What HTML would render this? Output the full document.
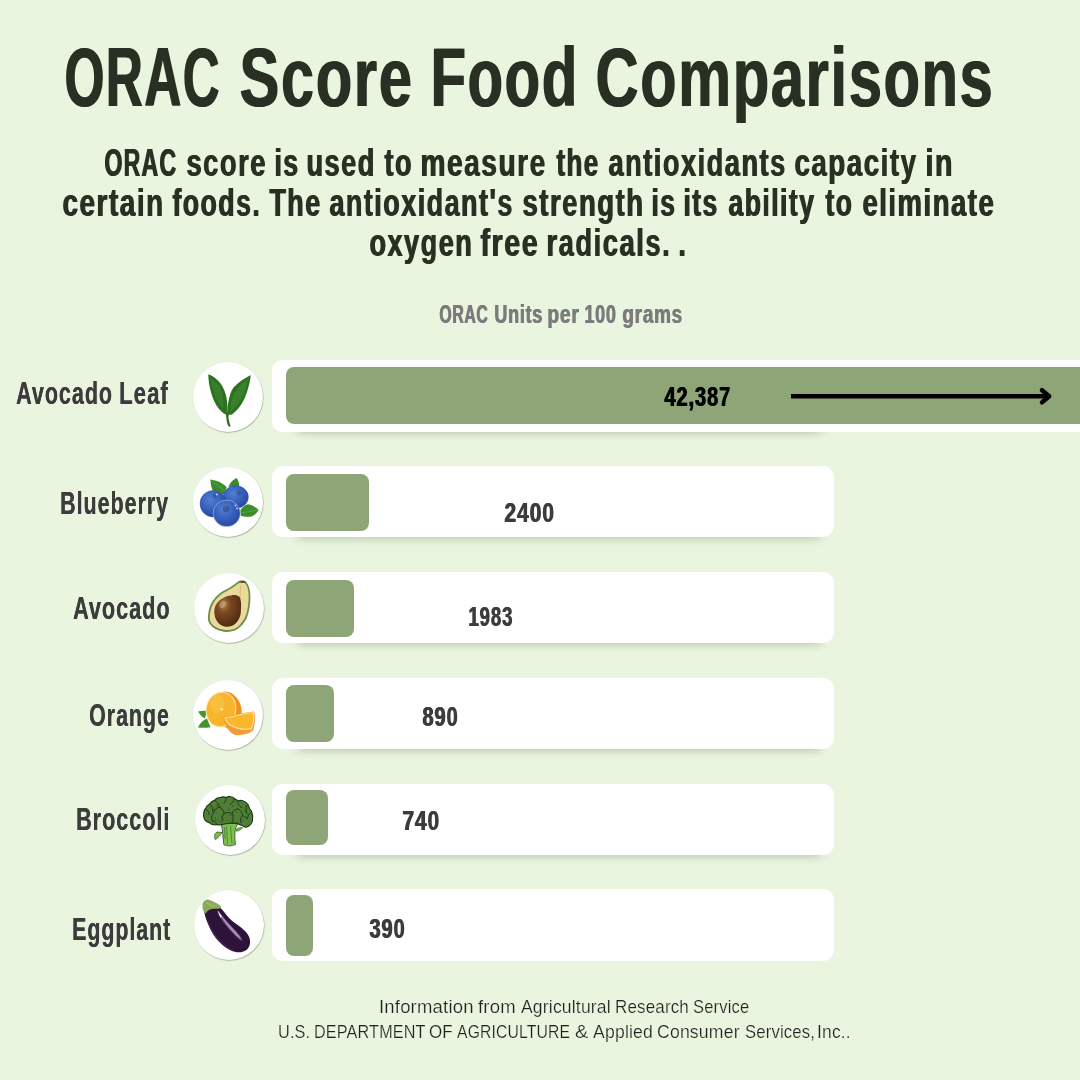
<!DOCTYPE html><html><head><meta charset="utf-8"><style>
html,body{margin:0;padding:0}
body{width:1080px;height:1080px;overflow:hidden;position:relative;background:#e9f5df;font-family:"Liberation Sans",sans-serif}
.t{position:absolute;white-space:nowrap;transform-origin:0 0}
.card{position:absolute;left:272px;background:#fff;border-radius:11px}
.shadow{position:absolute;left:272px;width:562px;border-radius:11px;box-shadow:0 10px 9px -9px rgba(40,60,30,.32)}
.bar{position:absolute;left:286px;background:#8ea677;border-radius:8px}
.circ{position:absolute;width:70px;height:70px;border-radius:50%;background:#fff;box-shadow:0.5px 0.7px 1px rgba(60,70,50,.42)}
.circ svg{position:absolute;left:0;top:0}
</style></head><body>
<div class="t" style="left:63.94px;top:33.27px;font-weight:700;font-size:86.63px;line-height:86.63px;letter-spacing:0.03em;transform-origin:0 73.33px;transform:scale(0.5900,0.965);color:#293023;text-shadow:2.03px 0 0 #293023;">ORAC</div>
<div class="t" style="left:238.91px;top:33.27px;font-weight:700;font-size:86.63px;line-height:86.63px;letter-spacing:0.03em;transform-origin:0 73.33px;transform:scale(0.6857,0.965);color:#293023;text-shadow:1.75px 0 0 #293023;">Score</div>
<div class="t" style="left:429.92px;top:33.27px;font-weight:700;font-size:86.63px;line-height:86.63px;letter-spacing:0.03em;transform-origin:0 73.33px;transform:scale(0.6676,0.965);color:#293023;text-shadow:1.80px 0 0 #293023;">Food</div>
<div class="t" style="left:595.12px;top:33.27px;font-weight:700;font-size:86.63px;line-height:86.63px;letter-spacing:0.03em;transform-origin:0 73.33px;transform:scale(0.6851,0.965);color:#293023;text-shadow:1.75px 0 0 #293023;">Comparisons</div>
<div class="t" style="left:104.07px;top:141.55px;font-weight:700;font-size:40.70px;line-height:40.70px;letter-spacing:0.055em;transform-origin:0 34.45px;transform:scale(0.5666,0.95);color:#293023;text-shadow:1.59px 0 0 #293023;">ORAC</div>
<div class="t" style="left:186.09px;top:141.55px;font-weight:700;font-size:40.70px;line-height:40.70px;letter-spacing:0.055em;transform-origin:0 34.45px;transform:scale(0.6724,0.95);color:#293023;text-shadow:1.34px 0 0 #293023;">score</div>
<div class="t" style="left:274.05px;top:141.55px;font-weight:700;font-size:40.70px;line-height:40.70px;letter-spacing:0.055em;transform-origin:0 34.45px;transform:scale(0.6552,0.95);color:#293023;text-shadow:1.37px 0 0 #293023;">is</div>
<div class="t" style="left:306.35px;top:141.55px;font-weight:700;font-size:40.70px;line-height:40.70px;letter-spacing:0.055em;transform-origin:0 34.45px;transform:scale(0.6677,0.95);color:#293023;text-shadow:1.35px 0 0 #293023;">used</div>
<div class="t" style="left:384.12px;top:141.55px;font-weight:700;font-size:40.70px;line-height:40.70px;letter-spacing:0.055em;transform-origin:0 34.45px;transform:scale(0.6647,0.95);color:#293023;text-shadow:1.35px 0 0 #293023;">to</div>
<div class="t" style="left:419.62px;top:141.55px;font-weight:700;font-size:40.70px;line-height:40.70px;letter-spacing:0.055em;transform-origin:0 34.45px;transform:scale(0.6901,0.95);color:#293023;text-shadow:1.30px 0 0 #293023;">measure</div>
<div class="t" style="left:556.44px;top:141.55px;font-weight:700;font-size:40.70px;line-height:40.70px;letter-spacing:0.055em;transform-origin:0 34.45px;transform:scale(0.6370,0.95);color:#293023;text-shadow:1.41px 0 0 #293023;">the</div>
<div class="t" style="left:608.18px;top:141.55px;font-weight:700;font-size:40.70px;line-height:40.70px;letter-spacing:0.055em;transform-origin:0 34.45px;transform:scale(0.6691,0.95);color:#293023;text-shadow:1.35px 0 0 #293023;">antioxidants</div>
<div class="t" style="left:794.38px;top:141.55px;font-weight:700;font-size:40.70px;line-height:40.70px;letter-spacing:0.055em;transform-origin:0 34.45px;transform:scale(0.6811,0.95);color:#293023;text-shadow:1.32px 0 0 #293023;">capacity</div>
<div class="t" style="left:924.63px;top:141.55px;font-weight:700;font-size:40.70px;line-height:40.70px;letter-spacing:0.055em;transform-origin:0 34.45px;transform:scale(0.7007,0.95);color:#293023;text-shadow:1.28px 0 0 #293023;">in</div>
<div class="t" style="left:61.67px;top:181.55px;font-weight:700;font-size:40.70px;line-height:40.70px;letter-spacing:0.055em;transform-origin:0 34.45px;transform:scale(0.6860,0.95);color:#293023;text-shadow:1.31px 0 0 #293023;">certain</div>
<div class="t" style="left:171.76px;top:181.55px;font-weight:700;font-size:40.70px;line-height:40.70px;letter-spacing:0.055em;transform-origin:0 34.45px;transform:scale(0.6555,0.95);color:#293023;text-shadow:1.37px 0 0 #293023;">foods.</div>
<div class="t" style="left:268.83px;top:181.55px;font-weight:700;font-size:40.70px;line-height:40.70px;letter-spacing:0.055em;transform-origin:0 34.45px;transform:scale(0.6597,0.95);color:#293023;text-shadow:1.36px 0 0 #293023;">The</div>
<div class="t" style="left:329.19px;top:181.55px;font-weight:700;font-size:40.70px;line-height:40.70px;letter-spacing:0.055em;transform-origin:0 34.45px;transform:scale(0.6622,0.95);color:#293023;text-shadow:1.36px 0 0 #293023;">antioxidant's</div>
<div class="t" style="left:521.89px;top:181.55px;font-weight:700;font-size:40.70px;line-height:40.70px;letter-spacing:0.055em;transform-origin:0 34.45px;transform:scale(0.6763,0.95);color:#293023;text-shadow:1.33px 0 0 #293023;">strength</div>
<div class="t" style="left:650.87px;top:181.55px;font-weight:700;font-size:40.70px;line-height:40.70px;letter-spacing:0.055em;transform-origin:0 34.45px;transform:scale(0.6489,0.95);color:#293023;text-shadow:1.39px 0 0 #293023;">is</div>
<div class="t" style="left:683.09px;top:181.55px;font-weight:700;font-size:40.70px;line-height:40.70px;letter-spacing:0.055em;transform-origin:0 34.45px;transform:scale(0.6503,0.95);color:#293023;text-shadow:1.38px 0 0 #293023;">its</div>
<div class="t" style="left:728.19px;top:181.55px;font-weight:700;font-size:40.70px;line-height:40.70px;letter-spacing:0.055em;transform-origin:0 34.45px;transform:scale(0.6529,0.95);color:#293023;text-shadow:1.38px 0 0 #293023;">ability</div>
<div class="t" style="left:825.33px;top:181.55px;font-weight:700;font-size:40.70px;line-height:40.70px;letter-spacing:0.055em;transform-origin:0 34.45px;transform:scale(0.6492,0.95);color:#293023;text-shadow:1.39px 0 0 #293023;">to</div>
<div class="t" style="left:861.59px;top:181.55px;font-weight:700;font-size:40.70px;line-height:40.70px;letter-spacing:0.055em;transform-origin:0 34.45px;transform:scale(0.6760,0.95);color:#293023;text-shadow:1.33px 0 0 #293023;">eliminate</div>
<div class="t" style="left:368.71px;top:221.85px;font-weight:700;font-size:40.70px;line-height:40.70px;letter-spacing:0.055em;transform-origin:0 34.45px;transform:scale(0.6662,0.95);color:#293023;text-shadow:1.35px 0 0 #293023;">oxygen</div>
<div class="t" style="left:479.82px;top:221.85px;font-weight:700;font-size:40.70px;line-height:40.70px;letter-spacing:0.055em;transform-origin:0 34.45px;transform:scale(0.7029,0.95);color:#293023;text-shadow:1.28px 0 0 #293023;">free</div>
<div class="t" style="left:545.87px;top:221.85px;font-weight:700;font-size:40.70px;line-height:40.70px;letter-spacing:0.055em;transform-origin:0 34.45px;transform:scale(0.6734,0.95);color:#293023;text-shadow:1.34px 0 0 #293023;">radicals.</div>
<div class="t" style="left:678.35px;top:221.85px;font-weight:700;font-size:40.70px;line-height:40.70px;letter-spacing:0.055em;transform-origin:0 34.45px;transform:scale(0.6429,0.95);color:#293023;text-shadow:1.40px 0 0 #293023;">.</div>
<div class="t" style="left:439.11px;top:300.71px;font-weight:700;font-size:26.45px;line-height:26.45px;letter-spacing:0.04em;transform-origin:0 22.39px;transform:scale(0.5968,0.965);color:#7b7b7b;text-shadow:1.34px 0 0 #7b7b7b;">ORAC</div>
<div class="t" style="left:493.90px;top:300.71px;font-weight:700;font-size:26.45px;line-height:26.45px;letter-spacing:0.04em;transform-origin:0 22.39px;transform:scale(0.6807,0.965);color:#7b7b7b;text-shadow:1.18px 0 0 #7b7b7b;">Units</div>
<div class="t" style="left:547.37px;top:300.71px;font-weight:700;font-size:26.45px;line-height:26.45px;letter-spacing:0.04em;transform-origin:0 22.39px;transform:scale(0.7280,0.965);color:#7b7b7b;text-shadow:1.10px 0 0 #7b7b7b;">per</div>
<div class="t" style="left:583.89px;top:300.71px;font-weight:700;font-size:26.45px;line-height:26.45px;letter-spacing:0.04em;transform-origin:0 22.39px;transform:scale(0.6828,0.965);color:#7b7b7b;text-shadow:1.17px 0 0 #7b7b7b;">100</div>
<div class="t" style="left:621.73px;top:300.71px;font-weight:700;font-size:26.45px;line-height:26.45px;letter-spacing:0.04em;transform-origin:0 22.39px;transform:scale(0.7143,0.965);color:#7b7b7b;text-shadow:1.12px 0 0 #7b7b7b;">grams</div>
<svg style="position:absolute;left:0;top:0" width="1080" height="1080"><defs><filter id="sb" x="-20%" y="-200%" width="140%" height="500%"><feGaussianBlur stdDeviation="5 3.2"/></filter></defs><g fill="rgba(45,70,35,0.21)" filter="url(#sb)"><rect x="298" y="419.5" width="522" height="15"/><rect x="298" y="525" width="522" height="15"/><rect x="298" y="631" width="522" height="15"/><rect x="298" y="737" width="522" height="15"/><rect x="298" y="843" width="522" height="15"/></g></svg>
<div class="card" style="top:360px;height:71.5px;width:808px;border-radius:11px 0 0 11px"></div>
<div class="card" style="top:466px;height:71px;width:562px;"></div>
<div class="card" style="top:572px;height:71px;width:562px;"></div>
<div class="card" style="top:678px;height:71px;width:562px;"></div>
<div class="card" style="top:784px;height:71px;width:562px;"></div>
<div class="card" style="top:888.8px;height:71.80000000000007px;width:562px;"></div>
<div class="bar" style="top:367px;height:57px;width:794px;border-radius:8px 0 0 8px"></div>
<div class="bar" style="top:474px;height:57.39999999999998px;width:83px;"></div>
<div class="bar" style="top:580px;height:57.39999999999998px;width:68px;"></div>
<div class="bar" style="top:684.6px;height:57.39999999999998px;width:48px;"></div>
<div class="bar" style="top:790px;height:55.200000000000045px;width:42px;"></div>
<div class="bar" style="top:895px;height:60.5px;width:27px;"></div>
<div class="t" style="left:16.05px;top:376.50px;font-weight:700;font-size:32.25px;line-height:32.25px;letter-spacing:0.045em;transform-origin:0 27.30px;transform:scale(0.6682,0.985);color:#3c3c3c;text-shadow:0.30px 0 0 #3c3c3c;">Avocado</div>
<div class="t" style="left:119.14px;top:376.50px;font-weight:700;font-size:32.25px;line-height:32.25px;letter-spacing:0.045em;transform-origin:0 27.30px;transform:scale(0.6889,0.985);color:#3c3c3c;text-shadow:0.29px 0 0 #3c3c3c;">Leaf</div>
<div class="t" style="left:60.29px;top:487.40px;font-weight:700;font-size:32.25px;line-height:32.25px;letter-spacing:0.045em;transform-origin:0 27.30px;transform:scale(0.6658,0.985);color:#3c3c3c;text-shadow:0.30px 0 0 #3c3c3c;">Blueberry</div>
<div class="t" style="left:73.45px;top:591.60px;font-weight:700;font-size:32.25px;line-height:32.25px;letter-spacing:0.045em;transform-origin:0 27.30px;transform:scale(0.6716,0.985);color:#3c3c3c;text-shadow:0.30px 0 0 #3c3c3c;">Avocado</div>
<div class="t" style="left:89.04px;top:698.90px;font-weight:700;font-size:32.25px;line-height:32.25px;letter-spacing:0.045em;transform-origin:0 27.30px;transform:scale(0.6643,0.985);color:#3c3c3c;text-shadow:0.30px 0 0 #3c3c3c;">Orange</div>
<div class="t" style="left:76.38px;top:802.60px;font-weight:700;font-size:32.25px;line-height:32.25px;letter-spacing:0.045em;transform-origin:0 27.30px;transform:scale(0.6707,0.985);color:#3c3c3c;text-shadow:0.30px 0 0 #3c3c3c;">Broccoli</div>
<div class="t" style="left:71.50px;top:912.80px;font-weight:700;font-size:32.25px;line-height:32.25px;letter-spacing:0.045em;transform-origin:0 27.30px;transform:scale(0.6627,0.985);color:#3c3c3c;text-shadow:0.30px 0 0 #3c3c3c;">Eggplant</div>
<div class="t" style="left:663.50px;top:383.00px;font-weight:700;font-size:28.00px;line-height:28.00px;letter-spacing:0.05em;transform-origin:0 23.70px;transform:scale(0.7100,1);color:#000;text-shadow:1.27px 0 0 #000;">42,387</div>
<div class="t" style="left:504.16px;top:498.99px;font-weight:700;font-size:28.00px;line-height:28.00px;letter-spacing:0.05em;transform-origin:0 23.70px;transform:scale(0.7453,1);color:#3c3c3c;text-shadow:1.21px 0 0 #3c3c3c;">2400</div>
<div class="t" style="left:467.77px;top:602.80px;font-weight:700;font-size:28.00px;line-height:28.00px;letter-spacing:0.05em;transform-origin:0 23.70px;transform:scale(0.6611,1);color:#3c3c3c;text-shadow:1.36px 0 0 #3c3c3c;">1983</div>
<div class="t" style="left:421.59px;top:702.80px;font-weight:700;font-size:28.00px;line-height:28.00px;letter-spacing:0.05em;transform-origin:0 23.70px;transform:scale(0.7122,1);color:#3c3c3c;text-shadow:1.26px 0 0 #3c3c3c;">890</div>
<div class="t" style="left:402.15px;top:807.09px;font-weight:700;font-size:28.00px;line-height:28.00px;letter-spacing:0.05em;transform-origin:0 23.70px;transform:scale(0.7417,1);color:#3c3c3c;text-shadow:1.21px 0 0 #3c3c3c;">740</div>
<div class="t" style="left:369.39px;top:915.09px;font-weight:700;font-size:28.00px;line-height:28.00px;letter-spacing:0.05em;transform-origin:0 23.70px;transform:scale(0.7121,1);color:#3c3c3c;text-shadow:1.26px 0 0 #3c3c3c;">390</div>
<svg style="position:absolute;left:0;top:0" width="1080" height="1080"><g stroke="#000" stroke-width="4.5" fill="none" stroke-linecap="round" stroke-linejoin="round"><line x1="791" y1="396.3" x2="1049" y2="396.3" stroke-linecap="butt"/><polyline points="1042,390.2 1049.2,396.3 1042,402.4"/></g></svg>
<div class="circ" style="left:193px;top:362px"><svg width="70" height="70" viewBox="0 0 70 70"><path d="M15.3,12.2 C15.5,24 19,38 26,47 C29,50.5 32,52.5 34,53 C35.5,42 33.5,30 28,22 C24.5,17 20,14 15.3,12.2 Z" fill="#2c7021"/>
<path d="M17.5,15 C19,27 23,38 30,47 C31.5,40 30,30 26,23 Z" fill="#4a983a" opacity=".35"/>
<path d="M57.8,13 C52,16 45.5,20 41,25 C37,30 35,38 34.2,52 C36.5,53.5 38.5,52.8 40.5,51.2 C46.5,46.5 51,39 54,30 C56,24 57.3,18 57.8,13 Z" fill="#2c7021"/>
<path d="M55.5,16.5 C49,21 43,26.5 40,34 C38,40 37,46 37.3,50 C43,45 49,37 52,29 Z" fill="#4f9d3d" opacity=".35"/>
<path d="M32.6,50.5 C33.6,55 33,58.5 34.8,63 C35.4,64.6 37,65.2 37.6,64.2 C36.6,61 35.6,58 35.5,55 C35.4,53.5 35.8,52 36.5,50.5 Z" fill="#2c7021"/></svg></div>
<div class="circ" style="left:193px;top:467px"><svg width="70" height="70" viewBox="0 0 70 70"><defs><radialGradient id="bb" cx="40%" cy="35%" r="68%"><stop offset="0" stop-color="#5080d0"/><stop offset=".55" stop-color="#3760bb"/><stop offset="1" stop-color="#2546a0"/></radialGradient></defs>
<path d="M17.4,12.6 C24,13.5 30,16 33.7,20.5 L31.2,27.2 C25,27 20.5,24.5 19.5,23 C18,19.5 17.5,16 17.4,12.6 Z" fill="#3c8c2c"/>
<path d="M19,14 L32,24" stroke="#5cad48" stroke-width=".7"/>
<path d="M35.3,19.7 C37.5,15 40.5,12 43.7,10.9 C45.5,13.5 46.5,16.5 46.2,19.7 Z" fill="#3c8c2c"/>
<path d="M47.4,43 C50,39.5 52.5,37.5 55.3,37.2 C59,38 62.5,40 65.75,43 C63,47 60,49.5 57,49.7 C53,50 50,49.5 47.8,48.8 Z" fill="#3c8c2c"/>
<path d="M47.5,46 L65,43.2" stroke="#5cad48" stroke-width=".7"/>
<ellipse cx="42.8" cy="30" rx="12.6" ry="11.2" fill="url(#bb)" stroke="#2a4a98" stroke-width=".4"/>
<circle cx="46" cy="26" r="2.4" fill="#2b4a8f" opacity=".55"/>
<ellipse cx="20.1" cy="36.7" rx="13.1" ry="13.3" fill="url(#bb)" stroke="#2a4a98" stroke-width=".4"/>
<circle cx="22" cy="29" r="2.4" fill="#2b4a8f" opacity=".5"/>
<ellipse cx="33.7" cy="46.3" rx="13.6" ry="13.3" fill="url(#bb)" stroke="#c8d4ee" stroke-width=".5"/>
<circle cx="33" cy="42" r="3.2" fill="#2b4a8f" opacity=".6"/>
<path d="M31.5,41.5 A2,2 0 0 1 34,40" stroke="#c0504a" stroke-width=".5" fill="none"/>
<circle cx="23.8" cy="27.5" r="1" fill="#c8d8f0"/>
<circle cx="42.5" cy="38.5" r=".9" fill="#c8d8f0"/>
<circle cx="44" cy="41.5" r="1.1" fill="#a8c0e8"/></svg></div>
<div class="circ" style="left:194px;top:573px"><svg width="70" height="70" viewBox="0 0 70 70"><path d="M49.3,7.4 C54,8.5 56.6,15 56.4,25.3 C56.2,34 54.5,41 52.7,45.3 C49.5,51.5 45,56 41,57.5 C37,58.8 33.5,59.2 30,58.7 C24,58 19,55.5 16,51.5 C13.5,47.5 13.8,44 14.2,41.2 C14.8,35 16.8,30.5 19.3,27 C23,22 27.5,18.5 31,17 C36,14.8 39.5,12 42.7,9.5 C45,7.8 47,7 49.3,7.4 Z" fill="#6f8e4e"/>
<path d="M49,9.3 C53,10.5 54.8,16 54.6,25.5 C54.4,33.5 52.8,40.5 51,44.5 C48,50 44,54.3 40.5,55.7 C37,56.9 33.5,57.2 30.2,56.8 C24.5,56 20,53.8 17.5,50.5 C15.3,47 15.6,44 16,41.3 C16.6,35.5 18.5,31.3 20.8,28 C24.5,23.3 28.5,20 32,18.5 C36.5,16.5 40,14 43.3,11.3 C45.3,9.8 47.2,9 49,9.3 Z" fill="#e9d99a"/>
<path d="M45,9 C48,8 50,7.8 52,8.5 C50.5,10 48,10.5 45,9 Z" fill="#5b4320"/>
<path d="M46.5,12 L46,26" stroke="#d8c27a" stroke-width="1.2"/>
<defs><radialGradient id="sd" cx="35%" cy="30%" r="75%"><stop offset="0" stop-color="#b08050"/><stop offset=".35" stop-color="#7a4820"/><stop offset="1" stop-color="#4e2810"/></radialGradient></defs>
<path d="M45.5,24 C43,21.8 40,21.8 37,22.5 C28,23.5 20.5,29.5 20.3,38.5 C20.2,47 25.5,53.8 33,53.8 C40.5,53.8 46,47.5 46.8,39.5 C47.3,33.5 47.5,27 45.5,24 Z" fill="url(#sd)"/>
<ellipse cx="29" cy="31.5" rx="3" ry="4" fill="#d0b080" opacity=".55" transform="rotate(35 29 31.5)"/></svg></div>
<div class="circ" style="left:193px;top:680px"><svg width="70" height="70" viewBox="0 0 70 70"><path d="M5,31.5 C8,31 11,30.5 14,31 C13,34 12.5,36.5 12,38.5 C9,37 7,35 5,31.5 Z" fill="#3e9a2c"/>
<path d="M4.9,47.5 C7,43 10,40 14,38.5 L17.5,47.3 C13,48 8.5,48 4.9,47.5 Z" fill="#3f952c"/>
<path d="M30,11.5 C36,11 41.5,14 45,19.5 C49,26 50,33 47,39 C44.5,44 40,47 35,48.5 L30,46 Z" fill="#f4901c"/>
<ellipse cx="28" cy="29.5" rx="15.3" ry="17.9" transform="rotate(12 28 29.5)" fill="#fce3a8"/>
<ellipse cx="28" cy="29.5" rx="14.2" ry="16.8" transform="rotate(12 28 29.5)" fill="#f8b52c"/>
<ellipse cx="24" cy="24" rx="7" ry="9" transform="rotate(12 24 24)" fill="#fac44a" opacity=".6"/>
<circle cx="28.8" cy="29.3" r="1.3" fill="#fde9c0"/>
<path d="M30,37 C40,35.5 51,32.5 61.2,31.5 C62.5,38 62,45 60,50.5 C55,54.5 48,55.5 42.5,55 C36,53.5 32,45 30,37 Z" fill="#f59a35"/>
<path d="M31.2,37.6 C41,36 51,33 60.7,32 C61.8,38 61,44.5 58.5,49.5 C51,51 42,49 36,45 C33.5,43 32,40 31.2,37.6 Z" fill="#fde3a0"/>
<path d="M32.5,38.2 C41.5,36.7 51,34 59.8,33 C60.8,38.5 60,44 57.7,48.3 C50.5,49.5 42.5,47.8 37,44.3 C35,42.5 33.5,40.5 32.5,38.2 Z" fill="#f9b72a"/></svg></div>
<div class="circ" style="left:195.4px;top:784.6px"><svg width="70" height="70" viewBox="0 0 70 70"><path d="M26.3,38.5 C27.5,45 28,52 28.8,59.6 C30.5,60.6 32.5,61 34.6,60.8 C36.5,60.8 38.5,60.3 40.4,59.6 C40,55 39.6,50 40,46 C40.5,43 41.5,41 42.9,38.5 Z" fill="#80c04f" stroke="#24461a" stroke-width=".8"/>
<path d="M31.5,41 C32,47 32.5,53 32.3,59 M35.5,41 C35.8,47 36.5,53 37,58.5 M29.3,42 C29.8,46 30,50 30.2,54" stroke="#3f7a28" stroke-width=".8" fill="none"/>
<path d="M22,47 C19.5,48.5 18.8,52 20.3,54.5 C23,53 25,50.5 27,47.5 Z" fill="#7cbd4c" stroke="#24461a" stroke-width=".7"/>
<path d="M41.5,44 C43.5,42.8 45.5,42.3 47.5,42.6 C46,44.8 44,46 41.5,46.2 Z" fill="#7cbd4c" stroke="#24461a" stroke-width=".6"/>
<path d="M9.6,34.6 C8.3,32 8.3,29.5 8.8,27.5 C9,25.5 9.6,24.3 10.4,23.7 C11.5,21 13,19.8 14.6,19.1 C16,16.8 17.8,15.8 19.6,15.4 C21.3,13 23.5,12.4 25.4,12.5 C27.5,11.5 29.5,11.8 31.3,12.5 C32.3,11.6 33.6,11.4 35,11.65 C37,11.8 38.6,12.6 39.6,13.7 C40.8,14.2 42,14.9 42.9,15.8 C44.5,15.2 46.3,15.3 47.9,15.8 C50.3,16.6 52,18 52.9,19.6 C53.8,20.8 54.3,22.2 54.6,23.7 C55.8,24.6 56.5,25.8 56.7,27 C57.8,29.8 58,32.8 57.5,35.4 C57.2,37.3 56.5,38.7 55.4,39.6 C54.2,41 52.8,41.8 51.3,42.1 C49.7,42.3 48.3,41.6 47.1,40.4 C45.5,40 44,39.5 42.9,38.7 C40,38.5 38,38.2 36.3,37.9 C33,38.5 29.5,39.2 26.3,39.6 C24.8,40 23.4,40 22.1,39.6 C20.8,40.2 19.8,40 18.8,39.6 C17,39.6 15.6,39 14.6,37.9 C12.5,37.5 10.8,36.3 9.6,34.6 Z" fill="#4f7e37" stroke="#1e3a15" stroke-width="1.1"/>
<g fill="none" stroke="#1e3a15" stroke-width=".9" stroke-linecap="round">
<path d="M14.6,19.1 C17,21 18,24 17.8,27"/><path d="M10.4,23.7 C12.5,25 14,27 14.3,29.5"/>
<path d="M19.6,15.4 C22.5,17 24,19.5 24.5,22"/><path d="M31.3,12.5 C31,15 30.5,17 29,18.5"/>
<path d="M39.6,13.7 C38.5,16.5 37,18.5 35,19.5"/><path d="M42.9,15.8 C42.5,19 44,21.5 46.5,22.5"/>
<path d="M52.9,19.6 C51,22 50.5,25 51.5,27.5"/><path d="M56.7,27 C54,28.5 52.5,31 52.5,33.5"/>
<path d="M24.5,22 C21,23 19,25.5 18.5,28.5"/><path d="M24.5,22 C27.5,23.5 29,26 29,28.5"/>
<path d="M29,28.5 C31.5,27 34.5,27 37,28.5"/><path d="M37,28.5 C38,25.5 40,24 43,24"/>
<path d="M43,24 C46,25 47.5,27.5 47.5,30.5"/><path d="M47.5,30.5 C45.5,32.5 45,35 46,38"/>
<path d="M18.5,28.5 C16.5,30.5 16,33 17,35.5"/><path d="M29,28.5 C27,30.5 26.5,33.5 27.5,36"/>
<path d="M37,28.5 C38.5,31 38.5,34 37.5,36.5"/><path d="M17,35.5 C19.5,36.5 21.5,38 22.1,39.6"/>
<path d="M47.5,30.5 C50,31.5 51.5,33 52.5,33.5"/>
</g><g fill="#24401a" opacity=".7"><circle cx="21.2" cy="27.7" r="0.48"/><circle cx="38.4" cy="29.9" r="0.37"/><circle cx="22.2" cy="19.3" r="0.70"/><circle cx="32.1" cy="35.6" r="0.52"/><circle cx="40.0" cy="17.1" r="0.57"/><circle cx="50.8" cy="27.1" r="0.61"/><circle cx="41.6" cy="14.7" r="0.62"/><circle cx="37.8" cy="21.1" r="0.36"/><circle cx="50.7" cy="25.8" r="0.60"/><circle cx="51.3" cy="32.3" r="0.67"/><circle cx="28.6" cy="34.6" r="0.51"/><circle cx="30.5" cy="29.9" r="0.46"/><circle cx="33.8" cy="23.4" r="0.47"/><circle cx="37.5" cy="28.8" r="0.67"/><circle cx="42.1" cy="38.1" r="0.65"/><circle cx="17.7" cy="36.2" r="0.69"/><circle cx="52.5" cy="28.4" r="0.60"/><circle cx="19.9" cy="35.5" r="0.55"/><circle cx="29.3" cy="17.1" r="0.45"/><circle cx="46.1" cy="36.6" r="0.37"/><circle cx="38.9" cy="14.2" r="0.60"/><circle cx="25.6" cy="36.8" r="0.69"/><circle cx="33.8" cy="40.0" r="0.46"/><circle cx="13.6" cy="29.2" r="0.36"/><circle cx="19.3" cy="24.0" r="0.56"/><circle cx="50.8" cy="21.5" r="0.69"/><circle cx="52.1" cy="23.2" r="0.51"/><circle cx="34.4" cy="30.4" r="0.56"/><circle cx="36.3" cy="29.7" r="0.68"/><circle cx="33.8" cy="24.6" r="0.60"/><circle cx="21.2" cy="21.1" r="0.69"/><circle cx="34.5" cy="27.8" r="0.35"/><circle cx="29.5" cy="28.7" r="0.36"/><circle cx="38.9" cy="30.1" r="0.37"/><circle cx="39.5" cy="25.6" r="0.59"/><circle cx="26.6" cy="32.1" r="0.61"/><circle cx="41.8" cy="39.0" r="0.44"/><circle cx="31.4" cy="29.0" r="0.46"/><circle cx="27.1" cy="21.4" r="0.48"/><circle cx="38.0" cy="21.1" r="0.48"/><circle cx="36.8" cy="32.8" r="0.46"/><circle cx="20.5" cy="34.7" r="0.43"/><circle cx="18.8" cy="24.8" r="0.59"/><circle cx="14.8" cy="21.7" r="0.47"/><circle cx="49.2" cy="24.8" r="0.65"/><circle cx="18.0" cy="22.1" r="0.58"/><circle cx="51.6" cy="25.2" r="0.43"/><circle cx="15.7" cy="27.3" r="0.42"/><circle cx="47.9" cy="35.6" r="0.41"/><circle cx="23.1" cy="34.8" r="0.57"/><circle cx="47.9" cy="22.3" r="0.40"/><circle cx="23.7" cy="34.4" r="0.44"/><circle cx="26.3" cy="24.3" r="0.50"/><circle cx="29.2" cy="37.9" r="0.40"/><circle cx="30.4" cy="38.7" r="0.67"/><circle cx="20.4" cy="33.1" r="0.64"/><circle cx="41.2" cy="27.0" r="0.45"/><circle cx="26.0" cy="19.1" r="0.37"/><circle cx="37.7" cy="20.7" r="0.63"/><circle cx="42.6" cy="37.9" r="0.66"/><circle cx="52.3" cy="28.6" r="0.35"/><circle cx="45.0" cy="17.6" r="0.45"/><circle cx="41.2" cy="27.2" r="0.49"/><circle cx="54.1" cy="29.5" r="0.47"/><circle cx="21.9" cy="36.3" r="0.52"/><circle cx="46.8" cy="22.5" r="0.42"/><circle cx="35.1" cy="35.1" r="0.41"/><circle cx="47.9" cy="35.2" r="0.35"/><circle cx="39.5" cy="36.3" r="0.37"/><circle cx="22.8" cy="20.3" r="0.53"/></g></svg></div>
<div class="circ" style="left:194px;top:890px"><svg width="70" height="70" viewBox="0 0 70 70"><path d="M11,17.5 C16,15.5 22,15.5 26,17.5 C30,21 32,25 35.5,28.5 C40,33 46,36 51,41 C55.5,45.5 57,50.5 55.5,55.5 C54,60 50,62.3 45,62.3 C39.5,62.3 33.5,59.5 28.5,55 C22,49 17,41.5 13.8,33.5 C12,29 10.5,24.5 10.2,21 Z" fill="#2e1338"/>
<path d="M12.5,24 C14,33 18.5,42 25,49.5 C29.5,54.5 35,58.5 41,60.5 C34,59.5 27,54.5 22,48.5 C16.5,41.5 13.5,33 12.5,24 Z" fill="#4a2a5c" opacity=".8"/>
<path d="M22.8,20.5 C27,24 31,29 36,34.5 C41,40 46,44 49,51 C46.5,51 42.5,47.5 38,42.5 C32.5,36.5 27.5,30.5 24.5,25.5 Z" fill="#5e4072" opacity=".85"/>
<path d="M23.8,20.5 C27.5,25 31,30 36,35.5 C40.5,40.5 45,44.5 47.8,50 C44.5,48 40.5,44 35.8,39 C31,33.5 27,27.5 23.8,20.5 Z" fill="#a993ba"/>
<path d="M23.6,20 C25,22.5 26.5,24.5 28,27 L26.5,27.5 C25.5,25.5 24.5,23 23.6,20 Z" fill="#fff"/>
<path d="M8.5,14 C9.5,11 12,9.3 14,9.5 C18,10.5 22,12.5 25.5,15 C27,16 27.5,17.5 26.8,18.3 C23,19 19,18.8 16,19.5 C14,20.5 12.5,22 11.8,23.5 C10,23 8.8,20 8.5,17 Z" fill="#8aab5a"/>
<path d="M12,13 C15,14 18,15 21,17" stroke="#b6c98a" stroke-width="1" fill="none" opacity=".7"/></svg></div>
<div class="t" style="left:378.53px;top:998.71px;font-weight:400;font-size:17.59px;line-height:17.59px;letter-spacing:0.01em;transform-origin:0 14.89px;transform:scale(1.0533,1);color:#222222;-webkit-text-stroke:0.22px #e9f5df;">Information</div>
<div class="t" style="left:478.11px;top:998.71px;font-weight:400;font-size:17.59px;line-height:17.59px;letter-spacing:0.01em;transform-origin:0 14.89px;transform:scale(1.0526,1);color:#222222;-webkit-text-stroke:0.22px #e9f5df;">from</div>
<div class="t" style="left:521.00px;top:998.71px;font-weight:400;font-size:17.59px;line-height:17.59px;letter-spacing:0.01em;transform-origin:0 14.89px;transform:scale(0.9976,1);color:#222222;-webkit-text-stroke:0.22px #e9f5df;">Agricultural</div>
<div class="t" style="left:615.14px;top:998.71px;font-weight:400;font-size:17.59px;line-height:17.59px;letter-spacing:0.01em;transform-origin:0 14.89px;transform:scale(0.9653,1);color:#222222;-webkit-text-stroke:0.22px #e9f5df;">Research</div>
<div class="t" style="left:693.47px;top:998.71px;font-weight:400;font-size:17.59px;line-height:17.59px;letter-spacing:0.01em;transform-origin:0 14.89px;transform:scale(0.9408,1);color:#222222;-webkit-text-stroke:0.22px #e9f5df;">Service</div>
<div class="t" style="left:278.30px;top:1023.71px;font-weight:400;font-size:17.59px;line-height:17.59px;letter-spacing:0.01em;transform-origin:0 14.89px;transform:scale(0.9255,1);color:#222222;-webkit-text-stroke:0.22px #e9f5df;">U.S.</div>
<div class="t" style="left:314.10px;top:1023.71px;font-weight:400;font-size:17.59px;line-height:17.59px;letter-spacing:0.01em;transform-origin:0 14.89px;transform:scale(0.9208,1);color:#222222;-webkit-text-stroke:0.22px #e9f5df;">DEPARTMENT</div>
<div class="t" style="left:429.35px;top:1023.71px;font-weight:400;font-size:17.59px;line-height:17.59px;letter-spacing:0.01em;transform-origin:0 14.89px;transform:scale(0.9636,1);color:#222222;-webkit-text-stroke:0.22px #e9f5df;">OF</div>
<div class="t" style="left:457.00px;top:1023.71px;font-weight:400;font-size:17.59px;line-height:17.59px;letter-spacing:0.01em;transform-origin:0 14.89px;transform:scale(0.8931,1);color:#222222;-webkit-text-stroke:0.22px #e9f5df;">AGRICULTURE</div>
<div class="t" style="left:574.91px;top:1023.71px;font-weight:400;font-size:17.59px;line-height:17.59px;letter-spacing:0.01em;transform-origin:0 14.89px;transform:scale(1.1279,1);color:#222222;-webkit-text-stroke:0.22px #e9f5df;">&amp;</div>
<div class="t" style="left:593.00px;top:1023.71px;font-weight:400;font-size:17.59px;line-height:17.59px;letter-spacing:0.01em;transform-origin:0 14.89px;transform:scale(1.0023,1);color:#222222;-webkit-text-stroke:0.22px #e9f5df;">Applied</div>
<div class="t" style="left:656.92px;top:1023.71px;font-weight:400;font-size:17.59px;line-height:17.59px;letter-spacing:0.01em;transform-origin:0 14.89px;transform:scale(1.0030,1);color:#222222;-webkit-text-stroke:0.22px #e9f5df;">Consumer</div>
<div class="t" style="left:744.87px;top:1023.71px;font-weight:400;font-size:17.59px;line-height:17.59px;letter-spacing:0.01em;transform-origin:0 14.89px;transform:scale(0.9491,1);color:#222222;-webkit-text-stroke:0.22px #e9f5df;">Services,</div>
<div class="t" style="left:817.33px;top:1023.71px;font-weight:400;font-size:17.59px;line-height:17.59px;letter-spacing:0.01em;transform-origin:0 14.89px;transform:scale(0.9910,1);color:#222222;-webkit-text-stroke:0.22px #e9f5df;">Inc..</div>
</body></html>
